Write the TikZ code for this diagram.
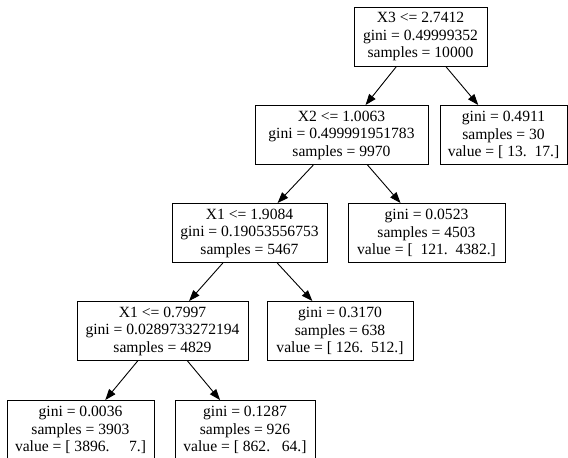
\documentclass[tikz,border=0pt]{standalone}
\usepackage{fontspec}
\setmainfont{Liberation Serif}
\usepackage{tikz}
\usetikzlibrary{arrows.meta}

\begin{document}
\begin{tikzpicture}[x=1pt,y=-1pt,
	split/.style={rectangle, draw=black, line width=0.9pt, align=center, font=\fontsize{15.6}{17.5}\selectfont, inner xsep=4pt, minimum height=59pt},
	arr/.style={-{Triangle[length=11pt,width=8pt]}, line width=0.9pt}]
			\useasboundingbox (0,0) rectangle (568,458);
			% splits and leaves, row by row
			\node[split, minimum width=133pt] (x3) at (420.5,36.5) {X3 <= 2.7412\\gini = 0.49999352\\samples = 10000};
			\node[split, minimum width=173pt] (x2) at (341.5,135) {X2 <= 1.0063\\gini = 0.499991951783\\samples = 9970};
			\node[split, minimum width=127pt] (l30) at (503.5,135) {gini = 0.4911\\samples = 30\\value = [~13.~~17.]};
			\node[split, minimum width=155pt] (x1a) at (249.5,233) {X1 <= 1.9084\\gini = 0.19053556753\\samples = 5467};
			\node[split, minimum width=157pt] (l4503) at (426.5,233) {gini = 0.0523\\samples = 4503\\value = [~~121.~~4382.]};
			\node[split, minimum width=171pt] (x1b) at (162.5,331) {X1 <= 0.7997\\gini = 0.0289733272194\\samples = 4829};
			\node[split, minimum width=146pt] (l638) at (340,331) {gini = 0.3170\\samples = 638\\value = [~126.~~512.]};
			\node[split, minimum width=147pt] (l3903) at (80.5,430) {gini = 0.0036\\samples = 3903\\value = [~3896.~~~~~7.]};
			\node[split, minimum width=140pt] (l926) at (245,430) {gini = 0.1287\\samples = 926\\value = [~862.~~~64.]};
			% connectors
			\draw[arr] (x3) -- (x2);
			\draw[arr] (x3) -- (l30);
			\draw[arr] (x2) -- (x1a);
			\draw[arr] (x2) -- (l4503);
			\draw[arr] (x1a) -- (x1b);
			\draw[arr] (x1a) -- (l638);
			\draw[arr] (x1b) -- (l3903);
			\draw[arr] (x1b) -- (l926);
		\end{tikzpicture}
\end{document}
